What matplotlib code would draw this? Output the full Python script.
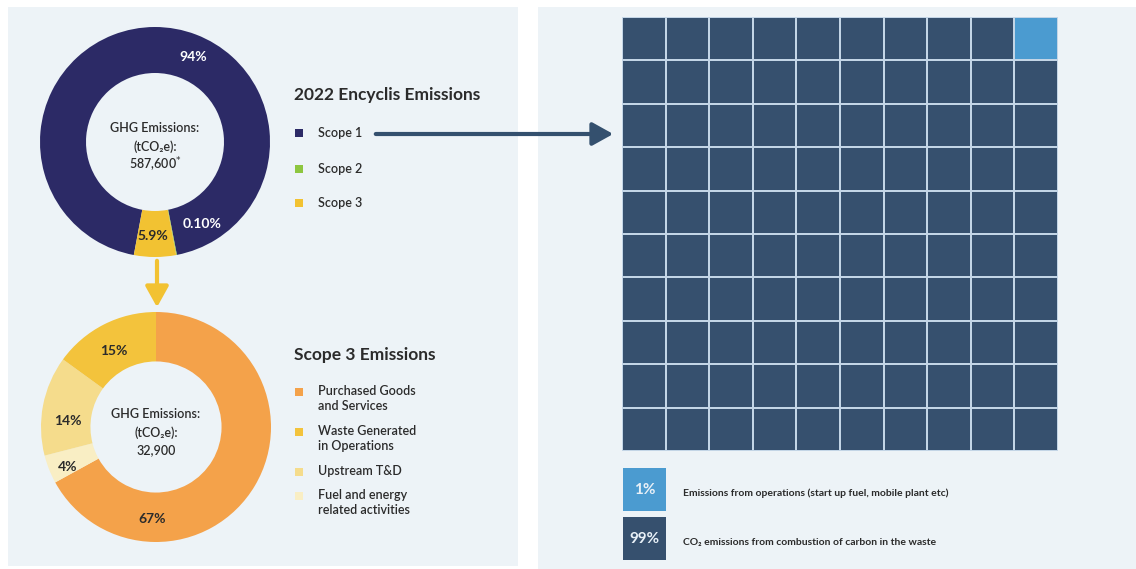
import numpy as np
import matplotlib.pyplot as plt
from matplotlib.patches import Rectangle, FancyArrowPatch

plt.rcParams['font.family'] = ['Lato', 'DejaVu Sans']

W, H = 1136, 569

# 2022 emissions by scope (share of total, %)
scope_names = ['Scope 1', 'Scope 2', 'Scope 3']
scope_share = [94, 0.10, 5.9]
scope_labels = ['94%', '0.10%', '5.9%']
scope_colors = ['#2c2a66', '#8dc63f', '#f2c232']
ghg_total = '587,600'

# Scope 3 breakdown (%), clockwise from 12 o'clock
s3_names = ['Purchased Goods\nand Services', 'Fuel and energy\nrelated activities',
            'Upstream T&D', 'Waste Generated\nin Operations']
s3_share = [67, 4, 14, 15]
s3_labels = ['67%', '4%', '14%', '15%']
s3_colors = ['#f4a24a', '#f9eec4', '#f5dc8c', '#f3c33c']
s3_legend_order = [0, 3, 2, 1]
s3_total = '32,900'

# Scope 1 split for the waffle
waffle_names = ['Emissions from operations (start up fuel, mobile plant etc)',
                'CO\u2082 emissions from combustion of carbon in the waste']
waffle_share = [1, 99]
waffle_colors = ['#4b9bd0', '#36506e']

panel = '#edf3f7'
ink = '#2b2b2b'
txt = dict(fontsize=9, color=ink, fontweight='semibold')


def box(x, y, w, h):
    # pixel box (top-left origin) -> figure fraction
    return [x / W, 1 - (y + h) / H, w / W, h / H]


fig = plt.figure(figsize=(W / 100, H / 100), dpi=100)
fig.patch.set_facecolor('white')

bg = fig.add_axes([0, 0, 1, 1])
bg.set_xlim(0, W)
bg.set_ylim(H, 0)
bg.axis('off')
bg.add_patch(Rectangle((8, 7), 510, 559, color=panel, lw=0))
bg.add_patch(Rectangle((538, 7), 598, 562, color=panel, lw=0))

# top donut: scope split, scope 3 centred at 6 o'clock
ax1 = fig.add_axes(box(40, 27, 230, 230))
start = -90 + 360 * (1 - scope_share[2] / 2 / sum(scope_share))
ax1.pie(scope_share, colors=scope_colors, startangle=start, counterclock=False,
        wedgeprops=dict(width=0.4, linewidth=0))
ax1.set_xlim(-1, 1)
ax1.set_ylim(-1, 1)
for (tx, ty), lab, c in zip([(0.33, 0.74), (0.41, -0.71), (-0.02, -0.82)],
                            scope_labels, ['white', 'white', ink]):
    ax1.text(tx, ty, lab, ha='center', va='center', fontsize=10,
             fontweight='bold', color=c)
ax1.text(0, 0.12, 'GHG Emissions:', ha='center', va='center', **txt)
ax1.text(0, -0.04, '(tCO\u2082e):', ha='center', va='center', **txt)
ax1.text(0, -0.2, ghg_total + '$^{*}$', ha='center', va='center', **txt)

# bottom donut: scope 3 categories
ax2 = fig.add_axes(box(41, 312, 230, 230))
ax2.pie(s3_share, colors=s3_colors, startangle=90, counterclock=False,
        wedgeprops=dict(width=0.43, linewidth=0))
ax2.set_xlim(-1, 1)
ax2.set_ylim(-1, 1)
for (tx, ty), lab in zip([(-0.03, -0.8), (-0.77, -0.35), (-0.77, 0.05), (-0.37, 0.66)],
                         s3_labels):
    ax2.text(tx, ty, lab, ha='center', va='center', fontsize=10,
             fontweight='bold', color=ink)
ax2.text(0, 0.11, 'GHG Emissions:', ha='center', va='center', **txt)
ax2.text(0, -0.05, '(tCO\u2082e):', ha='center', va='center', **txt)
ax2.text(0, -0.2, s3_total, ha='center', va='center', **txt)

# legends
bg.text(294, 95, '2022 Encyclis Emissions', fontsize=12.5, fontweight='bold',
        color=ink, va='center')
for name, c, y in zip(scope_names, scope_colors, [133, 169, 203]):
    bg.add_patch(Rectangle((295, y - 4), 8, 8, color=c, lw=0))
    bg.text(318, y, name, va='center', **txt)

bg.text(294, 355, 'Scope 3 Emissions', fontsize=12.5, fontweight='bold',
        color=ink, va='center')
for i, y in zip(s3_legend_order, [392, 432, 472, 496]):
    bg.add_patch(Rectangle((295, y - 4), 8, 8, color=s3_colors[i], lw=0))
    bg.text(318, y - 7, s3_names[i], va='top', linespacing=1.3, **txt)

# connector arrows
bg.add_patch(FancyArrowPatch((157, 258), (157, 310), arrowstyle='-|>,head_width=5,head_length=9',
                             mutation_scale=1.4, color='#f2c232', lw=3))
bg.add_patch(FancyArrowPatch((373, 134), (616, 134), arrowstyle='-|>,head_width=5,head_length=9',
                             mutation_scale=1.4, color='#34506e', lw=3))

# waffle of scope 1 split
cells = np.repeat([0, 1], waffle_share)
grid = cells.reshape(10, 10)[:, ::-1]
axw = fig.add_axes(box(622, 17, 436, 434))
axw.pcolormesh(grid, cmap=plt.matplotlib.colors.ListedColormap(waffle_colors),
               vmin=0, vmax=1, edgecolors='#c3d5e6', linewidth=1.1)
axw.set_xlim(0, 10)
axw.set_ylim(10, 0)
axw.axis('off')

for name, share, c, y in zip(waffle_names, waffle_share, waffle_colors, [468, 517]):
    bg.add_patch(Rectangle((623, y), 43, 43, color=c, lw=0))
    bg.text(644.5, y + 22, f'{share}%', ha='center', va='center', fontsize=11,
            fontweight='bold', color='#e8f0f7')
    bg.text(683, y + 25, name, fontsize=7.5, fontweight='bold', color=ink, va='center')

fig.savefig('out.png', dpi=100, facecolor='white')
